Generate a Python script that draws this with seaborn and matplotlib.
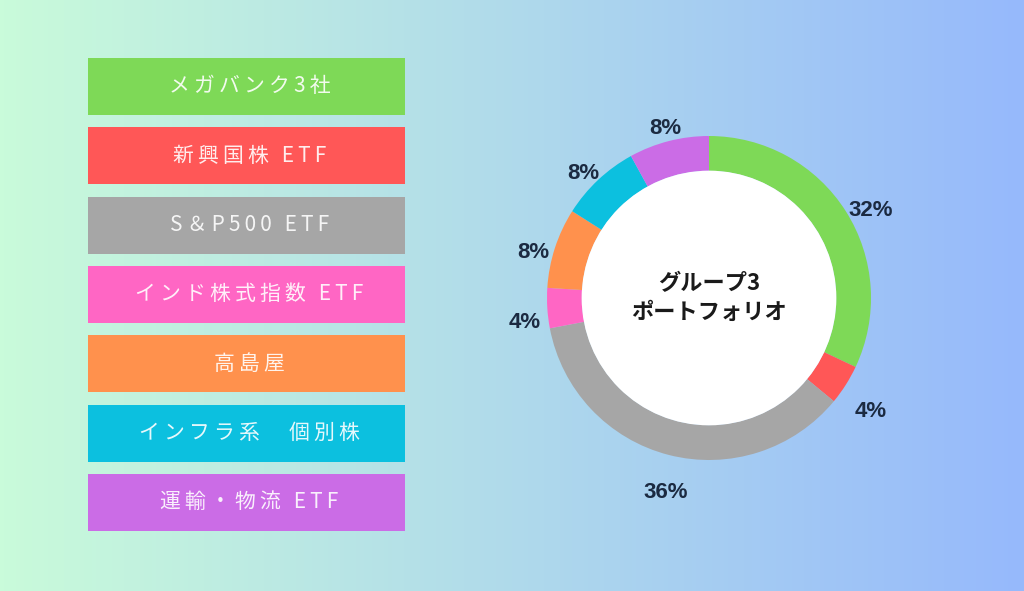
import numpy as np
import seaborn as sns
import matplotlib.pyplot as plt
from matplotlib.colors import LinearSegmentedColormap
from matplotlib.patches import Rectangle, Circle

# ---- data ----
holdings = ["メガバンク3社", "新興国株 ETF", "S＆P500 ETF", "インド株式指数 ETF",
            "高島屋", "インフラ系　個別株", "運輸・物流 ETF"]
shares = [32, 4, 36, 4, 8, 8, 8]
colors = ["#7ED957", "#FF5757", "#A6A6A6", "#FF66C4", "#FF914D", "#0CC0DF", "#CB6CE6"]
center_title = "グループ3\nポートフォリオ"

sns.set_theme(style="white")
plt.rcParams["font.family"] = ["Noto Sans CJK JP", "DejaVu Sans"]
palette = sns.color_palette(colors)

W, H = 1024, 591
fig = plt.figure(figsize=(W / 100, H / 100), dpi=100)

# background gradient, pixel coords for layout
bg = fig.add_axes([0, 0, 1, 1])
grad = LinearSegmentedColormap.from_list("bg", ["#C9FBDA", "#96B9FC"])
bg.imshow(np.linspace(0, 1, 256).reshape(1, -1), cmap=grad, aspect="auto",
          extent=[0, W, H, 0])
bg.set_xlim(0, W)
bg.set_ylim(H, 0)
bg.axis("off")

# legend boxes on the left
box_x, box_w, box_h, top, pitch = 88, 317, 57, 58, 69.3
for i, (name, col) in enumerate(zip(holdings, palette)):
    y0 = top + i * pitch
    bg.add_patch(Rectangle((box_x, y0), box_w, box_h, color=col, lw=0))
    spaced = "\u2009".join(name)
    bg.text(box_x + box_w / 2 + 3, y0 + box_h / 2, spaced, ha="center", va="center",
            fontsize=15, color="white", alpha=0.9)

# donut chart
R, L = 162, 1.4
side = 2 * L * R
ax = fig.add_axes([(709 - side / 2) / W, (H - 298 - side / 2) / H, side / W, side / H])
wedges, texts, pcts = ax.pie(
    shares, colors=palette, startangle=90, counterclock=False, radius=1,
    wedgeprops=dict(width=0.215, linewidth=0),
    autopct="%.0f%%", pctdistance=1.16,
    textprops=dict(fontfamily="Liberation Sans", fontweight="bold",
                   fontsize=16, color="#1B2A41"))
# labels sit a little lower than the wedge mid-angle in the original
for t in pcts:
    x, y = t.get_position()
    t.set_position((x + 0.02, y - 0.08))
ax.add_patch(Circle((0, 0), 0.786, color="white", lw=0))
ax.text(0, 0, center_title, ha="center", va="center", fontsize=16,
        fontweight="bold", color="#1A1A1A", linespacing=1.35)
ax.set_xlim(-L, L)
ax.set_ylim(-L, L)
ax.set_aspect("equal")
ax.axis("off")

fig.savefig("out.png", dpi=100)
plt.close(fig)
